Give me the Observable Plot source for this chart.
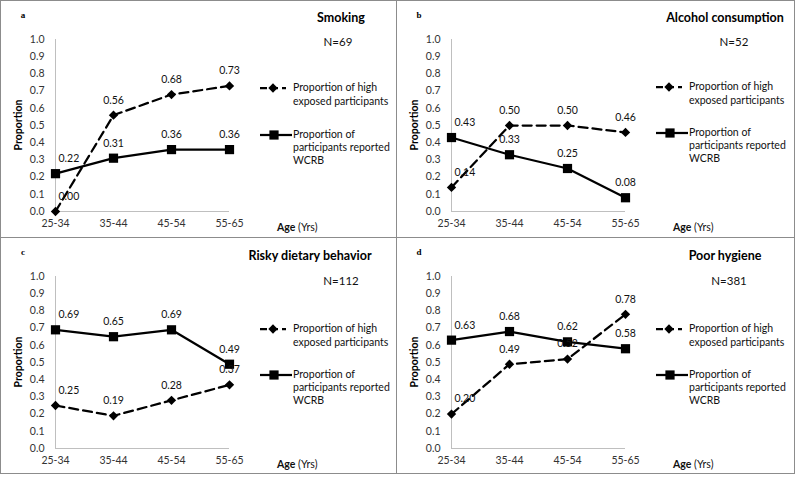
<!DOCTYPE html>
<html>
<head>
<meta charset="utf-8">
<script src="https://cdn.jsdelivr.net/npm/d3@7"></script>
<script src="https://cdn.jsdelivr.net/npm/@observablehq/plot@0.6"></script>
<style>
  html, body { margin: 0; padding: 0; background: #fff; }
  #wrap { position: relative; width: 795px; height: 477px; background: #fff; font-family: Lato, "Open Sans", sans-serif; }
  .panel { position: absolute; box-sizing: border-box; border: 1px solid #8c8c8c; background: #fff; overflow: hidden; }
  .panel svg { position: absolute; left: 0; top: 0; }
</style>
</head>
<body>
<div id="wrap"></div>
<script>
// ---- data ----
const ages = ["25-34", "35-44", "45-54", "55-65"];
const yTicks = [0, 0.1, 0.2, 0.3, 0.4, 0.5, 0.6, 0.7, 0.8, 0.9, 1.0];

const smokingExposed = [0.00, 0.56, 0.68, 0.73];
const smokingWCRB    = [0.22, 0.31, 0.36, 0.36];
const alcoholExposed = [0.14, 0.50, 0.50, 0.46];
const alcoholWCRB    = [0.43, 0.33, 0.25, 0.08];
const dietExposed    = [0.25, 0.19, 0.28, 0.37];
const dietWCRB       = [0.69, 0.65, 0.69, 0.49];
const hygieneExposed = [0.20, 0.49, 0.52, 0.78];
const hygieneWCRB    = [0.63, 0.68, 0.62, 0.58];

const panelLetters = ["a", "b", "c", "d"];
const panelTitles  = ["Smoking", "Alcohol consumption", "Risky dietary behavior", "Poor hygiene"];
const panelN       = ["N=69", "N=52", "N=112", "N=381"];
const exposedLegend = ["Proportion of high", "exposed participants"];
const wcrbLegend    = ["Proportion of", "participants reported", "WCRB"];
const yLabel = "Proportion";
const xLabelBold = "Age";
const xLabelRest = " (Yrs)";

const exposedSeries = [smokingExposed, alcoholExposed, dietExposed, hygieneExposed];
const wcrbSeries    = [smokingWCRB, alcoholWCRB, dietWCRB, hygieneWCRB];

// ---- layout (not data) ----
const panelBoxes = [
  {left: 0,   top: 0,   w: 397, h: 238},
  {left: 396, top: 0,   w: 399, h: 238},
  {left: 0,   top: 237, w: 397, h: 237},
  {left: 396, top: 237, w: 399, h: 237}
];
const titlePos = [{x: 340, y: 18}, {x: 328, y: 18}, {x: 309, y: 19}, {x: 328, y: 19}];
const nPos     = [{x: 337, y: 42}, {x: 337, y: 42}, {x: 340, y: 44}, {x: 332, y: 44}];
const legendY  = [[87, 134], [86, 132], [91, 137], [91, 137]];

const fmt2 = d3.format(".2f");
const wrap = document.getElementById("wrap");
const ff = "Lato, 'Open Sans', sans-serif";

for (let i = 0; i < 4; i++) {
  const exp = ages.map((a, j) => ({age: a, value: exposedSeries[i][j]}));
  const wc  = ages.map((a, j) => ({age: a, value: wcrbSeries[i][j]}));
  const all = exp.concat(wc);
  const box = panelBoxes[i];

  const chart = Plot.plot({
    width: box.w - 2,
    height: box.h - 2,
    marginLeft: 54,
    marginRight: box.w - 2 - 228,
    marginTop: 38,
    marginBottom: box.h - 2 - 210,
    x: {type: "point", domain: ages, padding: 0},
    y: {domain: [0, 1]},
    style: {fontFamily: ff, fontSize: "10.5px", color: "#333", background: "transparent", overflow: "visible"},
    marks: [
      Plot.ruleY([0], {stroke: "#bfbfbf", strokeWidth: 1}),
      Plot.ruleX([ages[0]], {y1: 0, y2: 1, stroke: "#bfbfbf", strokeWidth: 1}),
      Plot.axisY({ticks: yTicks, tickSize: 0, tickPadding: 11, tickFormat: d3.format(".1f"), label: null, fill: "#333"}),
      Plot.axisX({tickSize: 0, tickPadding: 8, label: null, fill: "#333"}),
      Plot.line(exp, {x: "age", y: "value", stroke: "black", strokeWidth: 2.25, strokeDasharray: "9,5"}),
      Plot.line(wc, {x: "age", y: "value", stroke: "black", strokeWidth: 2.25}),
      Plot.dot(exp, {x: "age", y: "value", symbol: "diamond2", r: 4.2, fill: "black", stroke: null}),
      Plot.dot(wc, {x: "age", y: "value", symbol: "square", r: 5.2, fill: "black", stroke: null}),
      Plot.text(all.filter(d => d.age === ages[0]), {x: "age", y: "value", text: d => fmt2(d.value), textAnchor: "start", dx: 3, dy: -15, fill: "#111", fontSize: 10.5}),
      Plot.text(all.filter(d => d.age !== ages[0]), {x: "age", y: "value", text: d => fmt2(d.value), dy: -15, fill: "#111", fontSize: 10.5})
    ]
  });

  const panel = document.createElement("div");
  panel.className = "panel";
  panel.style.left = box.left + "px";
  panel.style.top = box.top + "px";
  panel.style.width = box.w + "px";
  panel.style.height = box.h + "px";
  panel.appendChild(chart);
  wrap.appendChild(panel);

  const svg = d3.select(chart);

  // panel letter
  svg.append("text").attr("x", 22).attr("y", 15).attr("text-anchor", "middle").attr("dominant-baseline", "middle")
    .attr("font-family", "'Liberation Serif', 'DejaVu Serif', serif").attr("font-weight", "bold").attr("font-size", 9)
    .attr("fill", "#000").text(panelLetters[i]);
  // title
  svg.append("text").attr("x", titlePos[i].x).attr("y", titlePos[i].y).attr("text-anchor", "middle").attr("dominant-baseline", "middle")
    .attr("font-family", ff).attr("font-weight", "bold").attr("font-size", 12.5).attr("fill", "#000").text(panelTitles[i]);
  // N
  svg.append("text").attr("x", nPos[i].x).attr("y", nPos[i].y).attr("text-anchor", "middle").attr("dominant-baseline", "middle")
    .attr("font-family", ff).attr("font-size", 11.5).attr("fill", "#111").text(panelN[i]);
  // y label
  svg.append("text").attr("transform", "translate(18,124) rotate(-90)").attr("text-anchor", "middle").attr("dominant-baseline", "middle")
    .attr("font-family", ff).attr("font-weight", "bold").attr("font-size", 10.5).attr("fill", "#000").text(yLabel);
  // x label
  const xl = svg.append("text").attr("x", 276).attr("y", 227).attr("text-anchor", "start").attr("dominant-baseline", "middle")
    .attr("font-family", ff).attr("font-size", 10.5).attr("fill", "#111");
  xl.append("tspan").attr("font-weight", "bold").text(xLabelBold);
  xl.append("tspan").text(xLabelRest);

  // legend
  const [ly1, ly2] = legendY[i];
  const g = svg.append("g").attr("text-anchor", "start");
  g.append("line").attr("x1", 259).attr("x2", 285).attr("y1", ly1).attr("y2", ly1)
    .attr("stroke", "black").attr("stroke-width", 2.25).attr("stroke-dasharray", "7,4");
  g.append("path").attr("transform", `translate(272,${ly1})`).attr("d", d3.symbol(d3.symbolDiamond2, 4.2 * 4.2 * Math.PI)()).attr("fill", "black");
  exposedLegend.forEach((t, k) => g.append("text").attr("x", 292).attr("y", ly1 + k * 14).attr("text-anchor", "start").attr("dominant-baseline", "middle")
    .attr("font-family", ff).attr("font-size", 10.5).attr("fill", "#111").text(t));
  g.append("line").attr("x1", 259).attr("x2", 291).attr("y1", ly2).attr("y2", ly2)
    .attr("stroke", "black").attr("stroke-width", 2.25);
  g.append("path").attr("transform", `translate(273,${ly2})`).attr("d", d3.symbol(d3.symbolSquare, 5.2 * 5.2 * Math.PI)()).attr("fill", "black");
  wcrbLegend.forEach((t, k) => g.append("text").attr("x", 292).attr("y", ly2 + k * 13.3).attr("text-anchor", "start").attr("dominant-baseline", "middle")
    .attr("font-family", ff).attr("font-size", 10.5).attr("fill", "#111").text(t));
}
</script>
</body>
</html>
